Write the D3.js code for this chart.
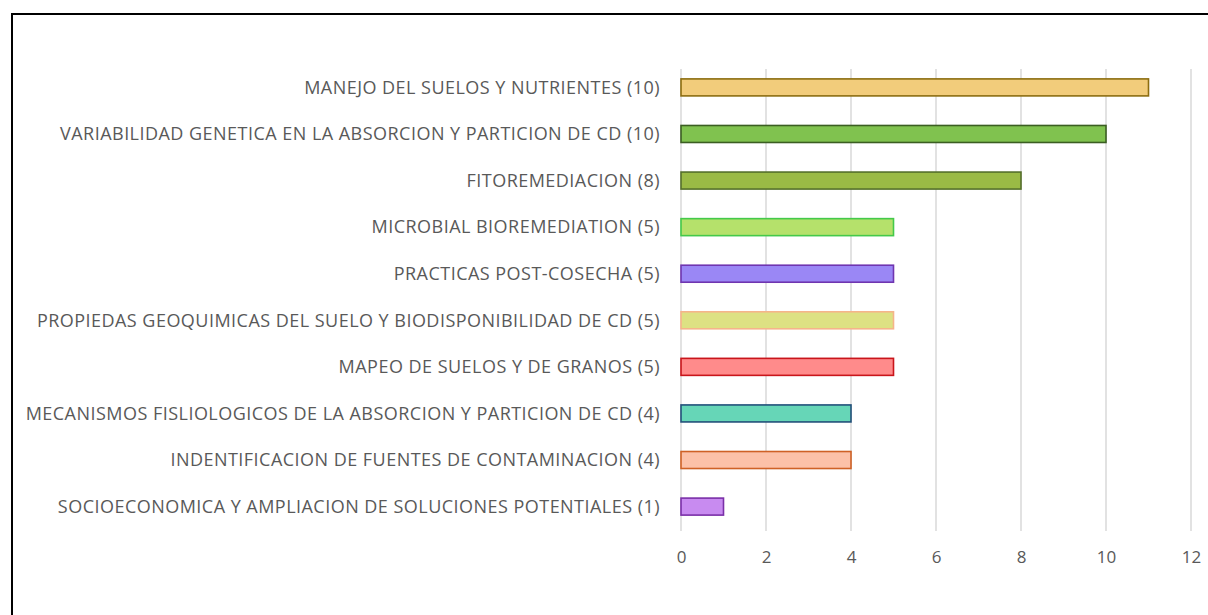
<!DOCTYPE html>
<html>
<head>
<meta charset="utf-8">
<script src="https://cdn.jsdelivr.net/npm/d3@7"></script>
<style>
  body { margin: 0; background: #fff; }
  svg { display: block; }
</style>
</head>
<body>
<svg id="chart" width="1208" height="615"></svg>
<script>
// categories top to bottom
const categories = [
    'MANEJO DEL SUELOS Y NUTRIENTES (10)',
    'VARIABILIDAD GENETICA EN LA ABSORCION Y PARTICION DE CD (10)',
    'FITOREMEDIACION (8)',
    'MICROBIAL BIOREMEDIATION (5)',
    'PRACTICAS POST-COSECHA (5)',
    'PROPIEDAS GEOQUIMICAS DEL SUELO Y BIODISPONIBILIDAD DE CD (5)',
    'MAPEO DE SUELOS Y DE GRANOS (5)',
    'MECANISMOS FISLIOLOGICOS DE LA ABSORCION Y PARTICION DE CD (4)',
    'INDENTIFICACION DE FUENTES DE CONTAMINACION (4)',
    'SOCIOECONOMICA Y AMPLIACION DE SOLUCIONES POTENTIALES (1)'
];
const values = [11, 10, 8, 5, 5, 5, 5, 4, 4, 1];
const fills = ['#f2cc7b', '#80c24f', '#9aba45', '#b5e16b', '#9a87f5', '#dde183', '#ff8b8b', '#66d6b7', '#fcc1a8', '#c88bf0'];
const strokes = ['#8c6d10', '#3b5e22', '#55702b', '#44c94a', '#6f35b0', '#f5b48a', '#c9151b', '#22507a', '#cf6126', '#7a2fa8'];
const xTicks = [0, 2, 4, 6, 8, 10, 12];

const svg = d3.select('#chart');

// frame around the chart (only top and left show in the picture)
svg.append('path')
    .attr('d', 'M12,615 V14 H1208')
    .attr('fill', 'none')
    .attr('stroke', '#000')
    .attr('stroke-width', 2);

const plotLeft = 681, plotRight = 1191, plotTop = 64, plotBottom = 530;

const x = d3.scaleLinear().domain([0, 12]).range([plotLeft, plotRight]);
const y = d3.scaleBand().domain(categories).range([plotTop, plotBottom]).paddingInner(0.635).paddingOuter(0.32);

// gridlines
svg.append('g')
    .selectAll('line')
    .data(xTicks)
    .join('line')
    .attr('x1', d => x(d))
    .attr('x2', d => x(d))
    .attr('y1', 69)
    .attr('y2', 531)
    .attr('stroke', '#d9d9d9')
    .attr('stroke-width', 1.5);

// bars
svg.append('g')
    .selectAll('rect')
    .data(values)
    .join('rect')
    .attr('x', x(0))
    .attr('y', (d, i) => y(categories[i]))
    .attr('width', d => x(d) - x(0))
    .attr('height', y.bandwidth())
    .attr('fill', (d, i) => fills[i])
    .attr('stroke', (d, i) => strokes[i])
    .attr('stroke-width', 1.6);

// category labels
svg.append('g')
    .selectAll('text')
    .data(categories)
    .join('text')
    .attr('x', plotLeft - 21)
    .attr('y', d => y(d) + y.bandwidth() / 2)
    .attr('dy', '0.35em')
    .attr('text-anchor', 'end')
    .attr('font-family', 'Open Sans, sans-serif')
    .attr('font-size', 18)
    .attr('letter-spacing', 0.47)
    .attr('fill', '#595959')
    .text(d => d);

// x axis tick labels
const xAxis = d3.axisBottom(x).tickValues(xTicks).tickSize(0).tickPadding(0);
const gx = svg.append('g')
    .attr('transform', `translate(0, 557)`)
    .call(xAxis);
gx.select('.domain').remove();
gx.selectAll('text')
    .attr('dy', '0.35em')
    .attr('font-family', 'Open Sans, sans-serif')
    .attr('font-size', 17)
    .attr('fill', '#595959');
</script>
</body>
</html>
